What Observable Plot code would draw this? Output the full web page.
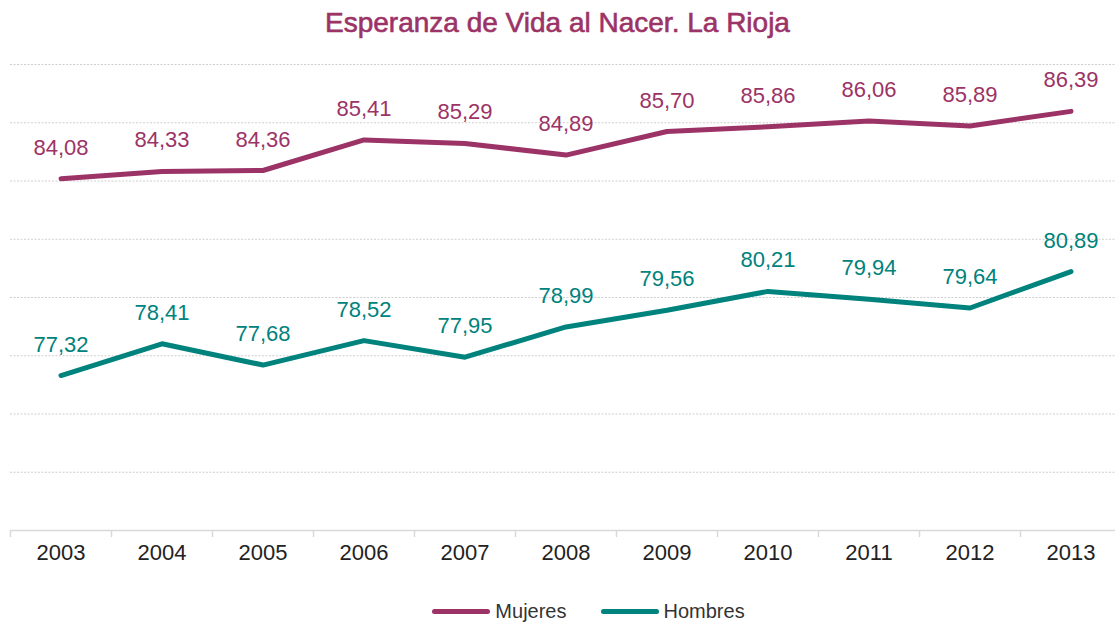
<!DOCTYPE html>
<html>
<head>
<meta charset="utf-8">
<script src="https://cdn.jsdelivr.net/npm/d3@7"></script>
<script src="https://cdn.jsdelivr.net/npm/@observablehq/plot@0.6"></script>
<style>
  html, body { margin: 0; padding: 0; background: #fff; overflow: hidden; }
  body { width: 1115px; height: 623px; font-family: "Liberation Sans", Arial, sans-serif; }
  #title { height: 44px; line-height: 46px; text-align: center; font-size: 28px; color: #9c3366; font-weight: normal; -webkit-text-stroke: 0.6px #9c3366; }
  #legend { height: 43px; margin-top: 10px; display: flex; justify-content: center; align-items: center; gap: 34px; font-size: 20px; color: #333; padding-left: 62px; }
  .item { display: flex; align-items: center; gap: 5px; }
  .sw { width: 58px; height: 5px; border-radius: 3px; }
</style>
</head>
<body>
<div id="title">Esperanza de Vida al Nacer. La Rioja</div>
<div id="chart"></div>
<div id="legend"></div>
<script>
const years = [2003, 2004, 2005, 2006, 2007, 2008, 2009, 2010, 2011, 2012, 2013];
const mujeres = [84.08, 84.33, 84.36, 85.41, 85.29, 84.89, 85.70, 85.86, 86.06, 85.89, 86.39];
const hombres = [77.32, 78.41, 77.68, 78.52, 77.95, 78.99, 79.56, 80.21, 79.94, 79.64, 80.89];
const seriesNames = ["Mujeres", "Hombres"];
const seriesColors = ["#9c3366", "#00827d"];
const gridValues = [74, 76, 78, 80, 82, 84, 86, 88];

const data = [];
years.forEach((y, i) => {
  data.push({year: y, value: mujeres[i], serie: "Mujeres"});
  data.push({year: y, value: hombres[i], serie: "Hombres"});
});
const boundaries = years.map(y => y - 0.5).concat([years[years.length - 1] + 0.5]);
const fmt = v => v.toFixed(2).replace(".", ",");

const chart = Plot.plot({
  width: 1115,
  height: 536,
  marginTop: 20,
  marginBottom: 50,
  marginLeft: 10,
  marginRight: -6,
  style: {fontFamily: "Liberation Sans, Arial, sans-serif", background: "transparent"},
  x: {domain: [years[0] - 0.5, years[years.length - 1] + 0.5]},
  y: {domain: [72, 88]},
  color: {domain: seriesNames, range: seriesColors},
  marks: [
    Plot.ruleY(gridValues, {stroke: "#cfcfcf", strokeDasharray: "2,1.5", strokeWidth: 1}),
    Plot.ruleY([72], {stroke: "#d9d9d9", strokeWidth: 1.5}),
    Plot.axisX(boundaries, {tickFormat: () => "", tickSize: 7, stroke: "#d9d9d9", strokeWidth: 1.5, label: null}),
    Plot.axisX(years, {tickSize: 0, tickPadding: 14, tickFormat: d => String(d), fontSize: 22, fill: "#222", label: null}),
    Plot.axisY({ticks: [], label: null, tickSize: 0}),
    Plot.line(data, {x: "year", y: "value", z: "serie", stroke: "serie", strokeWidth: 5, strokeLinejoin: "round", strokeLinecap: "round"}),
    Plot.text(data, {x: "year", y: "value", text: d => fmt(d.value), fill: "serie", dy: -31, fontSize: 22})
  ]
});
document.getElementById("chart").appendChild(chart);

const legend = document.getElementById("legend");
seriesNames.forEach((n, i) => {
  const it = document.createElement("div");
  it.className = "item";
  const sw = document.createElement("div");
  sw.className = "sw";
  sw.style.background = seriesColors[i];
  const t = document.createElement("span");
  t.textContent = n;
  it.appendChild(sw); it.appendChild(t);
  legend.appendChild(it);
});
</script>
</body>
</html>
